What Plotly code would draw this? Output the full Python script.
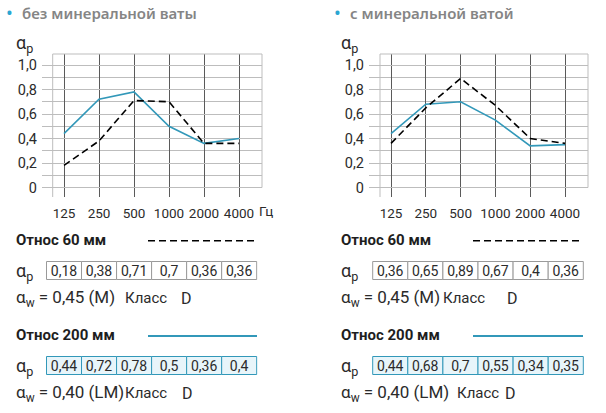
import plotly.graph_objects as go

W, H = 606, 413

# data
freqs = ["125", "250", "500", "1000", "2000", "4000"]
y_tick_vals = [0, 0.2, 0.4, 0.6, 0.8, 1.0]
y_tick_text = ["0", "0,2", "0,4", "0,6", "0,8", "1,0"]
panel_titles = ["без минеральной ваты", "с минеральной ватой"]
row_titles = ["Относ 60 мм", "Относ 200 мм"]

# без минеральной ваты
left_60 = [0.18, 0.38, 0.71, 0.7, 0.36, 0.36]
left_200 = [0.44, 0.72, 0.78, 0.5, 0.36, 0.4]
# с минеральной ватой
right_60 = [0.36, 0.65, 0.89, 0.67, 0.4, 0.36]
right_200 = [0.44, 0.68, 0.7, 0.55, 0.34, 0.35]

aw_left = ["= 0,45 (M)", "= 0,40 (LM)"]
aw_right = ["= 0,45 (M)", "= 0,40 (LM)"]
klass_left = ["D", "D"]
klass_right = ["D", "D"]

TEAL = "#3298b9"
BULLET = "#2aa6d2"
GRID = "#bdbdbd"
VGRID = "#5a5a5a"
TXT = "#2b2b2b"
NUMFONT = "Roboto"


def px(x):
    return x / W


def py(y):
    return 1 - y / H


def fmt(v):
    return f"{v:g}".replace(".", ",")


def label(x, y, text, size, color=TXT, family=NUMFONT, anchor="left", weight="normal"):
    return dict(x=px(x), y=py(y), xref="paper", yref="paper", xanchor=anchor, yanchor="middle",
                text=text, showarrow=False, borderpad=0, borderwidth=0,
                font=dict(family=family, size=size, color=color, weight=weight))


# layout positions (pixels) for each panel
panels = [
    dict(series=(left_60, left_200), aw=aw_left, klass=klass_left, title=panel_titles[0],
         bullet_x=10, title_x=22, x_first=64, x_step=35, grid_left=42, box_left=52.7, box_right=262,
         text_x=16, table=(46.5, 256.7), legend=(148, 257),
         klass_x=[(167, 181), (167, 182)], hz=True),
    dict(series=(right_60, right_200), aw=aw_right, klass=klass_right, title=panel_titles[1],
         bullet_x=337.7, title_x=350, x_first=391, x_step=34.8, grid_left=369, box_left=380, box_right=588,
         text_x=341, table=(372.7, 583.3), legend=(473, 583),
         klass_x=[(485, 507), (499, 505)], hz=False),
]

plot_top, plot_bot = 54, 197
y0_px, y1_px = 187.5, 65  # value 0 and 1.0
unit = y0_px - y1_px
y_range = [-(plot_bot - y0_px) / unit, (y0_px - plot_top) / unit]

table_rows = [(261.5, 279.5), (356.5, 374.5)]
row_text_y = [240, 335]
aw_y = [298, 393]

fig = go.Figure()
layout = dict(width=W, height=H, margin=dict(l=0, r=0, t=0, b=0, autoexpand=False),
              paper_bgcolor="white", plot_bgcolor="white", showlegend=False)
shapes = []
annotations = []
ax = 1

for p in panels:
    xs = f"x{ax if ax > 1 else ''}"
    ys = f"y{ax if ax > 1 else ''}"
    xr = [(p["grid_left"] - p["x_first"]) / p["x_step"], (p["box_right"] - p["x_first"]) / p["x_step"]]
    layout[f"xaxis{ax if ax > 1 else ''}"] = dict(
        domain=[px(p["grid_left"]), px(p["box_right"])], range=xr, type="category",
        showgrid=True, gridcolor=VGRID, gridwidth=1, zeroline=False, showline=False, ticks="",
        tickfont=dict(family=NUMFONT, size=13.5, color=TXT), ticklabelstandoff=6, anchor=ys,
        fixedrange=True)
    layout[f"yaxis{ax if ax > 1 else ''}"] = dict(
        domain=[py(plot_bot), py(plot_top)], range=y_range, tickmode="array",
        tickvals=y_tick_vals, ticktext=y_tick_text, showgrid=True, gridcolor=GRID, gridwidth=1,
        minor=dict(tick0=0, dtick=0.1, showgrid=True, gridcolor=GRID, gridwidth=1),
        zeroline=False, showline=False, ticks="", ticklabelstandoff=4,
        tickfont=dict(family=NUMFONT, size=14.5, color=TXT), anchor=xs, fixedrange=True)

    s60, s200 = p["series"]
    fig.add_trace(go.Scatter(x=freqs, y=s200, mode="lines", line=dict(color=TEAL, width=1.6),
                             xaxis=xs, yaxis=ys, hoverinfo="skip"))
    fig.add_trace(go.Scatter(x=freqs, y=s60, mode="lines",
                             line=dict(color="black", width=1.6, dash="7px,4px"),
                             xaxis=xs, yaxis=ys, hoverinfo="skip"))

    # frame around the grid
    bl, br = px(p["box_left"]), px(p["box_right"])
    shapes += [
        dict(type="line", xref="paper", yref="paper", x0=bl, x1=bl, y0=py(plot_bot), y1=py(plot_top),
             line=dict(color=GRID, width=1)),
        dict(type="line", xref="paper", yref="paper", x0=bl, x1=br, y0=py(plot_top), y1=py(plot_top),
             line=dict(color=GRID, width=1)),
        dict(type="line", xref="paper", yref="paper", x0=br, x1=br, y0=py(y0_px), y1=py(plot_top),
             line=dict(color=GRID, width=1)),
    ]

    # titles
    annotations.append(label(p["bullet_x"], 12.5, "•", 18, BULLET, "Noto Sans", "center"))
    annotations.append(label(p["title_x"], 13, p["title"], 15, "#858585", "Noto Sans", weight=600))
    annotations.append(label(p["text_x"], 44, "α<sub>p</sub>", 18))
    if p["hz"]:
        annotations.append(label(266, 211, "Гц", 13.5, anchor="center"))

    ax += 1

# tables
ax = 3
for p in panels:
    tl, tr = p["table"]
    cell_w = (tr - tl) / 6
    pad = 1.0
    for r, vals in enumerate(p["series"]):
        top, bot = table_rows[r]
        ch = bot - top
        xs, ys = f"x{ax}", f"y{ax}"
        layout[f"xaxis{ax}"] = dict(domain=[px(tl - pad), px(tr + pad)], type="category",
                                    range=[-0.5 - pad / cell_w, 5.5 + pad / cell_w],
                                    visible=False, anchor=ys, fixedrange=True)
        layout[f"yaxis{ax}"] = dict(domain=[py(bot + pad), py(top - pad)],
                                    range=[-pad / ch, 1 + pad / ch],
                                    visible=False, anchor=xs, fixedrange=True)
        fill = "white" if r == 0 else "#e8f5fa"
        edge = "#9a9a9a" if r == 0 else TEAL
        fig.add_trace(go.Bar(x=freqs, y=[1] * 6, base=0, width=1, xaxis=xs, yaxis=ys,
                             marker=dict(color=fill, line=dict(color=edge, width=1)),
                             text=[fmt(v) for v in vals], textposition="inside",
                             insidetextanchor="middle", constraintext="none", textangle=0,
                             textfont=dict(family=NUMFONT, size=14, color=TXT), hoverinfo="skip"))

        # labels around table
        annotations.append(label(p["text_x"], row_text_y[r], row_titles[r], 15, "#1e1e1e", weight="bold"))
        lx0, lx1 = p["legend"]
        if r == 0:
            shapes.append(dict(type="line", xref="paper", yref="paper", x0=px(lx0), x1=px(lx1),
                               y0=py(240.7), y1=py(240.7),
                               line=dict(color="black", width=1.6, dash="7px,4px")))
        else:
            shapes.append(dict(type="line", xref="paper", yref="paper", x0=px(lx0), x1=px(lx1),
                               y0=py(336), y1=py(336), line=dict(color=TEAL, width=1.8)))
        annotations.append(label(p["text_x"], (top + bot) / 2 + 1, "α<sub>p</sub>", 18))
        annotations.append(label(p["text_x"], aw_y[r], "α<sub>w</sub> " + p["aw"][r], 17))
        kx, dx = p["klass_x"][r]
        annotations.append(label(kx, aw_y[r], "Класс", 15, anchor="right"))
        annotations.append(label(dx, aw_y[r], p["klass"][r], 16))
        ax += 1

layout["shapes"] = shapes
layout["annotations"] = annotations
fig.update_layout(**layout)
# the page has a default 8px body margin; drop it so the figure fills the window
fig.write_html("out.html", config={"displayModeBar": False},
               post_script="document.body.style.margin = '0';")
